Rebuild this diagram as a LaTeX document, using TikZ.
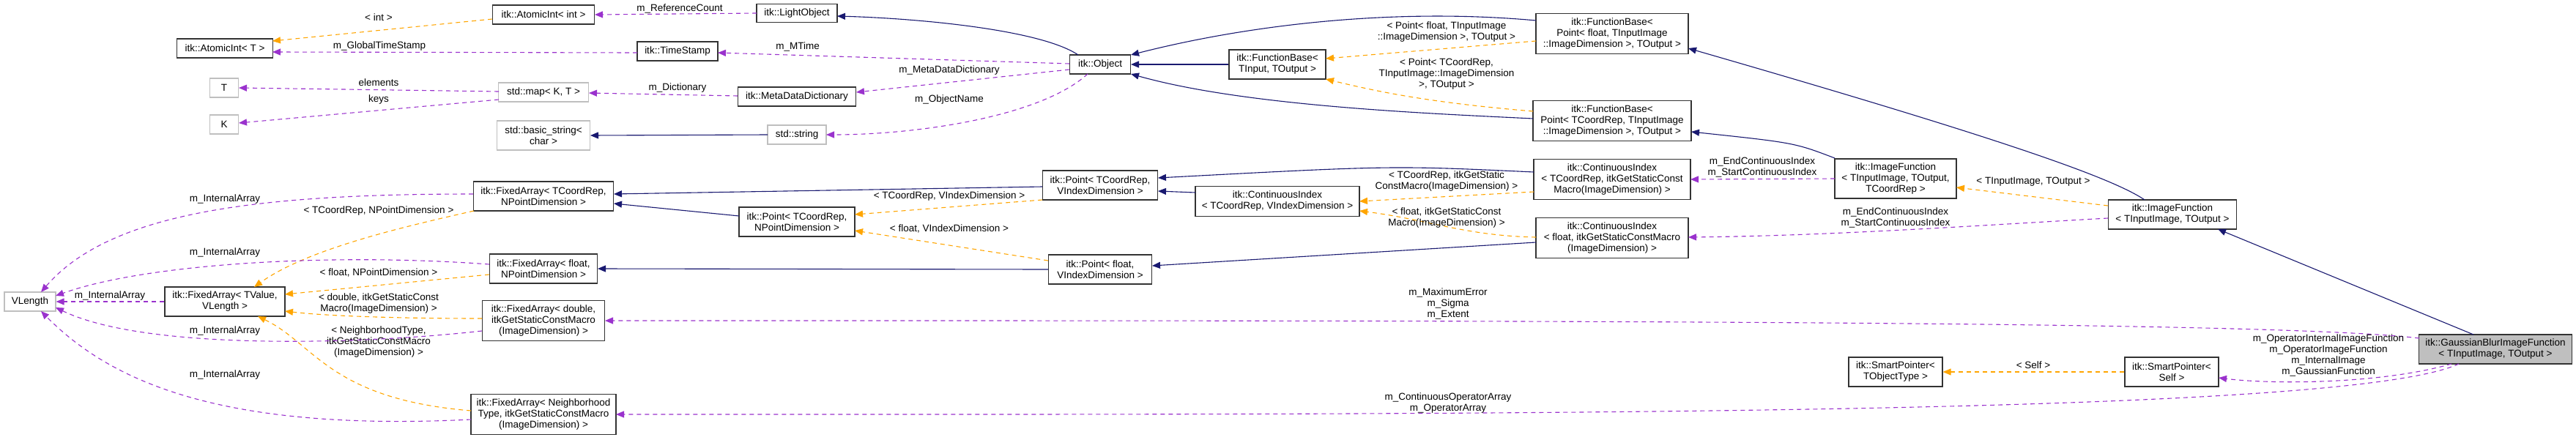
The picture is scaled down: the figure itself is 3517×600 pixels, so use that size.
\documentclass[tikz,border=0pt]{standalone}
\usepackage{fontspec}
\setmainfont{Liberation Sans}
\usetikzlibrary{arrows.meta,calc}
\definecolor{navy}{HTML}{191970}
\definecolor{purp}{HTML}{9A32CD}
\definecolor{orng}{HTML}{FFA500}
\definecolor{gbord}{HTML}{BFBFBF}
\begin{document}
\begin{tikzpicture}[x=1pt,y=-1pt,
  every node/.style={font=\fontsize{13.5}{15}\selectfont,align=center,inner sep=1pt},
  box/.style={draw=black!80,line width=1.2pt,fill=white},
  gbox/.style={draw=gbord,line width=1.2pt,fill=white},
  inh/.style={draw=navy,line width=1.1pt,-{Triangle[length=11pt,width=9pt]}},
  tpl/.style={draw=orng,line width=1.1pt,dash pattern=on 6pt off 5pt,-{Triangle[length=11pt,width=9pt]}},
  use/.style={draw=purp,line width=1.1pt,dash pattern=on 6pt off 5pt,-{Triangle[length=11pt,width=9pt]}},
  lbl/.style={fill=none}]
\useasboundingbox (0,0) rectangle (3517,600);
\newcommand\bx[7]{\node[#6,minimum width=#4pt,minimum height=#5pt] (#1) at (#2,#3) {#7};}
\bx{aiint}{742}{20}{139}{26}{box}{itk::AtomicInt< int >}
\bx{aiT}{307}{66}{131}{26}{box}{itk::AtomicInt< T >}
\bx{T}{306}{120}{39}{26}{gbox}{T}
\bx{K}{306}{170}{39}{26}{gbox}{K}
\bx{map}{742}{126}{123}{26}{gbox}{std::map< K, T >}
\bx{bstr}{742}{185}{127}{40}{gbox}{std::basic\_string<\\char >}
\bx{faCN}{742}{268}{191}{40}{box}{itk::FixedArray< TCoordRep,\\NPointDimension >}
\bx{vlen}{41}{412}{70}{26}{gbox}{VLength}
\bx{faTV}{307}{412}{164}{40}{box}{itk::FixedArray< TValue,\\VLength >}
\bx{faF}{742}{367}{147}{40}{box}{itk::FixedArray< float,\\NPointDimension >}
\bx{faD}{742}{438}{167}{55}{box}{itk::FixedArray< double,\\itkGetStaticConstMacro\\(ImageDimension) >}
\bx{faN}{742}{566}{198}{55}{box}{itk::FixedArray< Neighborhood\\Type, itkGetStaticConstMacro\\(ImageDimension) >}
\bx{light}{1088}{18}{110}{25}{box}{itk::LightObject}
\bx{ts}{925}{70}{110}{26}{box}{itk::TimeStamp}
\bx{mdd}{1088}{132}{161}{26}{box}{itk::MetaDataDictionary}
\bx{str}{1088}{184}{80}{26}{gbox}{std::string}
\bx{obj}{1502}{88}{83}{26}{box}{itk::Object}
\bx{fbTI}{1744}{88}{132}{40}{box}{itk::FunctionBase<\\TInput, TOutput >}
\bx{ptCV}{1502}{253}{157}{40}{box}{itk::Point< TCoordRep,\\VIndexDimension >}
\bx{ptCN}{1088}{303}{158}{40}{box}{itk::Point< TCoordRep,\\NPointDimension >}
\bx{ciCV}{1744}{275}{224}{41}{box}{itk::ContinuousIndex\\< TCoordRep, VIndexDimension >}
\bx{ptFV}{1502}{368}{141}{40}{box}{itk::Point< float,\\VIndexDimension >}
\bx{fbPF}{2201}{46}{208}{55}{box}{itk::FunctionBase<\\Point< float, TInputImage\\::ImageDimension >, TOutput >}
\bx{fbPC}{2201}{165}{216}{55}{box}{itk::FunctionBase<\\Point< TCoordRep, TInputImage\\::ImageDimension >, TOutput >}
\bx{ciCI}{2201}{245}{214}{55}{box}{itk::ContinuousIndex\\< TCoordRep, itkGetStaticConst\\Macro(ImageDimension) >}
\bx{ifC}{2588}{244}{166}{54}{box}{itk::ImageFunction\\< TInputImage, TOutput,\\TCoordRep >}
\bx{ciFI}{2201}{325}{208}{55}{box}{itk::ContinuousIndex\\< float, itkGetStaticConstMacro\\(ImageDimension) >}
\bx{spT}{2588}{508}{128}{40}{box}{itk::SmartPointer<\\TObjectType >}
\bx{ifT}{2966}{293}{175}{40}{box}{itk::ImageFunction\\< TInputImage, TOutput >}
\bx{gb}{3407}{477}{209}{40}{box,fill=gbord}{itk::GaussianBlurImageFunction\\< TInputImage, TOutput >}
\bx{spS}{2965}{508}{128}{40}{box}{itk::SmartPointer<\\Self >}
% edges
\draw[use] ($(light)+(-55,0)$) -- ($(aiint)+(70,0)$);
\node[lbl] (l1) at (928,12) {m\_ReferenceCount};
\draw[use] ($(ts)+(-55,2)$) -- ($(aiT)+(65,5)$);
\node[lbl] (l2) at (518,63) {m\_GlobalTimeStamp};
\draw[tpl] ($(aiint)+(-70,6)$) -- ($(aiT)+(65,-10)$);
\node[lbl] (l3) at (517,24) {< int >};
\draw[use] ($(map)+(-61,-1)$) -- ($(T)+(20,0)$);
\node[lbl] (l4) at (517,113) {elements};
\draw[use] ($(map)+(-61,10)$) -- ($(K)+(20,-2)$);
\node[lbl] (l5) at (517,136) {keys};
\draw[use] ($(mdd)+(-81,-1)$) -- ($(map)+(62,1)$);
\node[lbl] (l6) at (925,120) {m\_Dictionary};
\draw[use] ($(obj)+(-42,-1)$) -- ($(ts)+(55,2)$);
\node[lbl] (l7) at (1089,64) {m\_MTime};
\draw[use] ($(obj)+(-42,7)$) -- ($(mdd)+(81,-6)$);
\node[lbl] (l8) at (1296,96) {m\_MetaDataDictionary};
\draw[use] ($(obj)+(-17,13)$) .. controls (1420,160) and (1250,184) .. ($(str)+(40,0)$);
\node[lbl] (l9) at (1296,136) {m\_ObjectName};
\draw[inh] ($(obj)+(-30,-13)$) .. controls (1420,40) and (1250,25) .. ($(light)+(55,4)$);
\draw[inh] ($(str)+(-40,0)$) -- ($(bstr)+(64,0)$);
\draw[inh] (fbTI.west) -- ($(obj)+(42,0)$);
\draw[inh] ($(fbPF)+(-104,-18)$) .. controls (1900,10) and (1700,35) .. ($(obj)+(42,-13)$);
\draw[inh] ($(fbPC)+(-108,-3)$) .. controls (1950,155) and (1700,145) .. ($(obj)+(42,13)$);
\draw[tpl] ($(fbPF)+(-104,10)$) -- ($(fbTI)+(66,-8)$);
\node[lbl] (l10) at (1975,44) {< Point< float, TInputImage\\::ImageDimension >, TOutput >};
\draw[tpl] ($(fbPC)+(-108,-13)$) .. controls (1950,140) and (1880,125) .. ($(fbTI)+(66,20)$);
\node[lbl] (l11) at (1975,101) {< Point< TCoordRep,\\TInputImage::ImageDimension\\>, TOutput >};
\draw[inh] ($(ifC)+(-83,-28)$) .. controls (2450,195) .. ($(fbPC)+(108,15)$);
\draw[use] ($(ifC)+(-83,0)$) -- ($(ciCI)+(107,0)$);
\node[lbl] (l12) at (2406,228) {m\_EndContinuousIndex\\m\_StartContinuousIndex};
\draw[tpl] ($(ifT)+(-88,-12)$) -- ($(ifC)+(83,12)$);
\node[lbl] (l13) at (2776,248) {< TInputImage, TOutput >};
\draw[use] ($(ifT)+(-88,5)$) .. controls (2700,308) and (2500,322) .. ($(ciFI)+(104,-1)$);
\node[lbl] (l14) at (2588,297) {m\_EndContinuousIndex\\m\_StartContinuousIndex};
\draw[inh] ($(ifT)+(-38,-20)$) .. controls (2880,240) and (2700,180) .. ($(fbPF)+(104,20)$);
\draw[inh] ($(gb)+(-30,-20)$) -- ($(ifT)+(62,20)$);
\draw[use] ($(gb)+(-104,-15)$) .. controls (3100,437) and (2000,438) .. ($(faD)+(84,0)$);
\node[lbl] (l15) at (1977,415) {m\_MaximumError\\m\_Sigma\\m\_Extent};
\draw[use] ($(gb)+(-60,20)$) .. controls (3250,525) and (3100,525) .. ($(spS)+(64,8)$);
\node[lbl] (l16) at (3179,485) {m\_OperatorInternalImageFunction\\m\_OperatorImageFunction\\m\_InternalImage\\m\_GaussianFunction};
\draw[use] ($(gb)+(-50,20)$) .. controls (3200,570) and (2000,566) .. ($(faN)+(99,0)$);
\node[lbl] (l17) at (1977,551) {m\_ContinuousOperatorArray\\m\_OperatorArray};
\draw[tpl] (spS.west) -- (spT.east);
\node[lbl] (l18) at (2776,499) {< Self >};
\draw[inh] ($(ciCI)+(-107,-10)$) .. controls (1900,226) .. ($(ptCV)+(79,-10)$);
\draw[tpl] ($(ciCI)+(-107,17)$) -- ($(ciCV)+(112,0)$);
\node[lbl] (l19) at (1975,248) {< TCoordRep, itkGetStatic\\ConstMacro(ImageDimension) >};
\draw[tpl] ($(ciFI)+(-104,-1)$) .. controls (2000,322) and (1950,300) .. ($(ciCV)+(112,13)$);
\node[lbl] (l20) at (1975,298) {< float, itkGetStaticConst\\Macro(ImageDimension) >};
\draw[inh] ($(ciFI)+(-104,6)$) -- ($(ptFV)+(71,-5)$);
\draw[inh] ($(ciCV)+(-112,-12)$) -- ($(ptCV)+(79,8)$);
\draw[inh] ($(ptCV)+(-79,2)$) -- ($(faCN)+(96,-3)$);
\draw[tpl] ($(ptCV)+(-79,20)$) -- ($(ptCN)+(79,-10)$);
\node[lbl] (l21) at (1296,268) {< TCoordRep, VIndexDimension >};
\draw[inh] ($(ptCN)+(-79,-8)$) -- ($(faCN)+(96,10)$);
\draw[inh] ($(ptFV)+(-71,0)$) -- ($(faF)+(74,0)$);
\draw[tpl] ($(ptFV)+(-71,-12)$) -- ($(ptCN)+(79,12)$);
\node[lbl] (l22) at (1296,312) {< float, VIndexDimension >};
\draw[tpl] ($(faCN)+(-95,20)$) .. controls (550,310) and (420,340) .. ($(faTV)+(40,-20)$);
\node[lbl] (l23) at (517,288) {< TCoordRep, NPointDimension >};
\draw[tpl] ($(faF)+(-74,8)$) -- ($(faTV)+(82,-10)$);
\node[lbl] (l24) at (517,372) {< float, NPointDimension >};
\draw[tpl] ($(faD)+(-84,-3)$) .. controls (550,435) and (450,432) .. ($(faTV)+(82,13)$);
\node[lbl] (l25) at (517,415) {< double, itkGetStaticConst\\Macro(ImageDimension) >};
\draw[tpl] ($(faN)+(-99,-5)$) .. controls (450,545) and (430,470) .. ($(faTV)+(45,20)$);
\node[lbl] (l26) at (517,467) {< NeighborhoodType,\\itkGetStaticConstMacro\\(ImageDimension) >};
\draw[use] ($(faCN)+(-96,-3)$) .. controls (350,265) and (150,290) .. ($(vlen)+(15,-13)$);
\node[lbl] (l27) at (307,272) {m\_InternalArray};
\draw[use] ($(faF)+(-74,-6)$) .. controls (450,345) and (200,360) .. ($(vlen)+(35,-8)$);
\node[lbl] (l28) at (307,345) {m\_InternalArray};
\draw[use] (faTV.west) -- (vlen.east);
\node[lbl] (l29) at (150,404) {m\_InternalArray};
\draw[use] ($(faD)+(-84,14)$) .. controls (500,470) and (200,480) .. ($(vlen)+(35,8)$);
\node[lbl] (l30) at (307,452) {m\_InternalArray};
\draw[use] ($(faN)+(-99,7)$) .. controls (300,590) and (150,520) .. ($(vlen)+(15,13)$);
\node[lbl] (l31) at (307,512) {m\_InternalArray};
\end{tikzpicture}
\end{document}
